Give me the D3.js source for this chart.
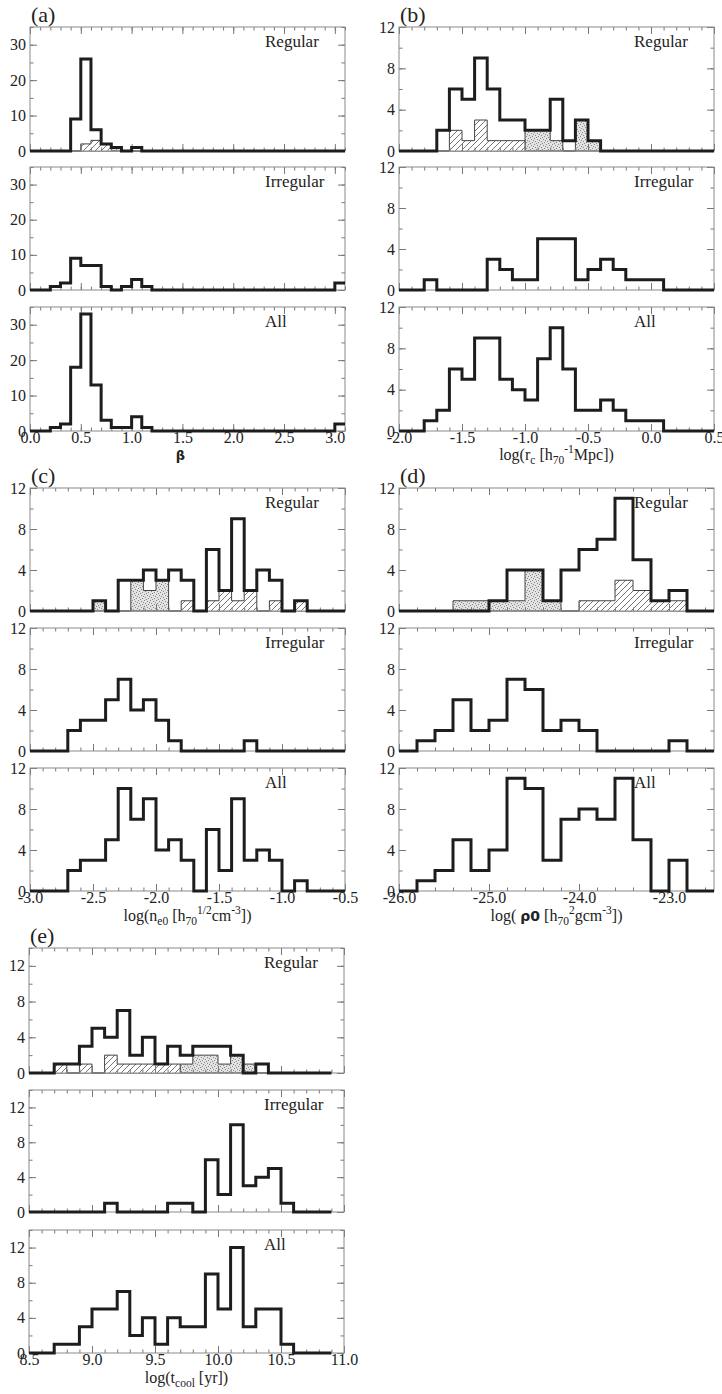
<!DOCTYPE html>
<html><head><meta charset="utf-8">
<script src="https://cdn.jsdelivr.net/npm/d3@7"></script>
<style>
body{margin:0;background:#fff;}
svg text{font-family:"Liberation Serif","Times New Roman",serif;fill:#222;}
</style></head><body>
<svg id="fig" width="722" height="1394"></svg>
<script>
// ---------- counts per bin (bins start at the panel's first edge) ----------
// (a) beta, bins of 0.1 from 0.0
const betaRegular   = [0,0,0,0,9,26,6,2,1,0,1,0,0,0,0,0,0,0,0,0,0,0,0,0,0,0,0,0,0,0,0];
const betaHatch     = [0,0,0,0,0,2,3,2,0,0,0,0,0,0,0,0,0,0,0,0,0,0,0,0,0,0,0,0,0,0,0];
const betaStipple   = [0,0,0,0,0,0,0,0,1,0,0,0,0,0,0,0,0,0,0,0,0,0,0,0,0,0,0,0,0,0,0];
const betaIrregular = [0,0,1,2,9,7,7,1,0,1,3,1,0,0,0,0,0,0,0,0,0,0,0,0,0,0,0,0,0,0,2];
const betaAll       = [0,0,1,2,18,33,13,3,1,1,4,1,0,0,0,0,0,0,0,0,0,0,0,0,0,0,0,0,0,0,2];

// (b) log r_c, bins of 0.1 from -2.0
const rcRegular   = [0,0,0,2,6,5,9,6,3,3,2,2,5,1,3,1,0,0,0,0,0,0,0,0,0];
const rcHatch     = [0,0,0,0,2,1,3,1,1,1,0,0,0,0,0,0,0,0,0,0,0,0,0,0,0];
const rcStipple   = [0,0,0,0,0,0,0,0,0,0,2,2,1,0,3,1,0,0,0,0,0,0,0,0,0];
const rcIrregular = [0,0,1,0,0,0,0,3,2,1,1,5,5,5,1,2,3,2,1,1,1,0,0,0,0];
const rcAll       = [0,0,1,2,6,5,9,9,5,4,3,7,10,6,2,2,3,2,1,1,1,0,0,0,0];

// (c) log n_e0, bins of 0.1 from -3.0
const neRegular   = [0,0,0,0,0,1,0,3,3,4,3,4,3,0,6,2,9,2,4,3,0,1,0,0,0];
const neHatch     = [0,0,0,0,0,0,0,0,0,0,0,0,1,0,1,2,1,2,0,1,0,1,0,0,0];
const neStipple   = [0,0,0,0,0,1,0,0,3,2,3,0,0,0,0,0,0,0,0,0,0,0,0,0,0];
const neIrregular = [0,0,0,2,3,3,5,7,4,5,3,1,0,0,0,0,0,1,0,0,0,0,0,0,0];
const neAll       = [0,0,0,2,3,3,5,10,7,9,4,5,3,0,6,2,9,3,4,3,0,1,0,0,0];

// (d) log rho_0, bins of 0.2 from -26.0
const rhoRegular   = [0,0,0,0,0,1,4,4,1,4,6,7,11,5,1,2,0,0];
const rhoHatch     = [0,0,0,0,0,0,0,0,0,0,1,1,3,2,1,1,0,0];
const rhoStipple   = [0,0,0,1,1,1,1,4,1,0,0,0,0,0,0,0,0,0];
const rhoIrregular = [0,1,2,5,2,3,7,6,2,3,2,0,0,0,0,1,0,0];
const rhoAll       = [0,1,2,5,2,4,11,10,3,7,8,7,11,5,0,3,0,0];

// (e) log t_cool, bins of 0.1 from 8.5
const tcRegular   = [0,0,1,1,3,5,4,7,2,4,1,3,2,3,3,3,2,0,1,0,0,0,0,0];
const tcHatch     = [0,0,1,0,1,0,2,1,1,1,1,1,0,0,0,0,0,0,0,0,0,0,0,0];
const tcStipple   = [0,0,0,0,0,0,0,0,0,0,0,0,1,2,2,1,2,1,0,0,0,0,0,0];
const tcIrregular = [0,0,0,0,0,0,1,0,0,0,0,1,1,0,6,2,10,3,4,5,1,0,0,0];
const tcAll       = [0,0,1,1,3,5,5,7,2,4,1,4,3,3,9,5,12,3,5,5,1,0,0,0];

// ---------- tick labels ----------
const betaTicks = [0.0,0.5,1.0,1.5,2.0,2.5,3.0];
const rcTicks   = [-2.0,-1.5,-1.0,-0.5,0.0,0.5];
const neTicks   = [-3.0,-2.5,-2.0,-1.5,-1.0,-0.5];
const rhoTicks  = [-26.0,-25.0,-24.0,-23.0];
const tcTicks   = [8.5,9.0,9.5,10.0,10.5,11.0];
const countTicks35 = [0,10,20,30];
const countTicks12 = [0,4,8,12];
const rowNames = ["Regular","Irregular","All"];

const svg = d3.select("#fig");
const defs = svg.append("defs");

// diagonal hatching
const hatch = defs.append("pattern").attr("id","hatch")
  .attr("patternUnits","userSpaceOnUse").attr("width",6).attr("height",6);
hatch.append("rect").attr("width",6).attr("height",6).attr("fill","#fff");
hatch.append("path").attr("d","M-1,1 L1,-1 M0,6 L6,0 M5,7 L7,5")
  .attr("stroke","#666").attr("stroke-width",0.9);

// speckled grey fill
const stip = defs.append("pattern").attr("id","stipple")
  .attr("patternUnits","userSpaceOnUse").attr("width",6).attr("height",6);
stip.append("rect").attr("width",6).attr("height",6).attr("fill","#e2e2e2");
[[0,0],[3,1],[1,3],[4,4],[2,5],[5,2]].forEach(([px,py]) =>
  stip.append("rect").attr("x",px).attr("y",py).attr("width",1).attr("height",1).attr("fill","#8a8a8a"));

function label(g, x, y, parts, size, anchor){
  const t = g.append("text").attr("x",x).attr("y",y)
    .attr("text-anchor",anchor||"middle").attr("font-size",size);
  const shift = {n:0, sub:4, sup:-7};
  let cur = 0;
  parts.forEach(p => {
    const kind = p[1] || "n";
    const ts = t.append("tspan").text(p[0]).attr("dy", shift[kind]-cur);
    cur = shift[kind];
    if (kind !== "n") ts.attr("font-size", size*0.72);
    if (p[2]) ts.attr("font-family", p[2]).attr("font-weight","bold").attr("font-size", p[3]||size);
  });
  return t;
}

const fmt = d => d.toFixed(1);

function drawPanel(p){
  const x = d3.scaleLinear().domain(p.xDomain).range([p.x0, p.x1]);
  const edge = i => +(p.binStart + i*p.binWidth).toFixed(4);
  const pts = arr => {
    const out = arr.map((v,i)=>[edge(i), v]).filter(d => d[0] < p.lineEnd - 1e-9);
    out.push([p.lineEnd, out[out.length-1][1]]);
    return out;
  };
  const xMinor = d3.range(p.xDomain[0], p.xDomain[1]+1e-9, p.xMinorStep).map(v=>+v.toFixed(4));

  p.rows.forEach((row, r) => {
    const top = p.tops[r], bot = p.bottoms[r];
    const y = d3.scaleLinear().domain(p.yDomain).range([bot, top]);
    const yMinor = d3.range(p.yDomain[0], p.yDomain[1]+1e-9, p.yMinorStep);
    const g = svg.append("g");
    const line = d3.line().x(d=>x(d[0])).y(d=>y(d[1])).curve(d3.curveStepAfter);
    const area = d3.area().x(d=>x(d[0])).y0(y(0)).y1(d=>y(d[1])).curve(d3.curveStepAfter);

    // sub-sample fills
    [["stipple",row.stipple],["hatch",row.hatch]].forEach(([pat, arr]) => {
      if (!arr) return;
      const pp = pts(arr);
      g.append("path").attr("d", area(pp)).attr("fill", `url(#${pat})`);
      g.append("path").attr("d", line(pp)).attr("fill","none")
        .attr("stroke","#444").attr("stroke-width",1);
    });

    // ticks, all pointing inward
    const tickStyle = sel => {
      sel.select(".domain").remove();
      sel.selectAll("line").attr("stroke","#777").attr("stroke-width",1);
      sel.selectAll("text").attr("font-family","Liberation Serif, serif").attr("font-size",16).attr("fill","#222");
    };
    g.append("g").attr("transform",`translate(${p.x0},0)`)
      .call(d3.axisLeft(y).tickValues(yMinor).tickSize(-3.5).tickFormat("")).call(tickStyle);
    g.append("g").attr("transform",`translate(${p.x1},0)`)
      .call(d3.axisRight(y).tickValues(yMinor).tickSize(-3.5).tickFormat("")).call(tickStyle);
    g.append("g").attr("transform",`translate(${p.x0},0)`)
      .call(d3.axisLeft(y).tickValues(p.yTicks).tickSize(-7).tickPadding(4).tickFormat(d3.format("d"))).call(tickStyle);
    g.append("g").attr("transform",`translate(${p.x1},0)`)
      .call(d3.axisRight(y).tickValues(p.yTicks).tickSize(-7).tickFormat("")).call(tickStyle);
    g.append("g").attr("transform",`translate(0,${top})`)
      .call(d3.axisTop(x).tickValues(xMinor).tickSize(-3.5).tickFormat("")).call(tickStyle);
    g.append("g").attr("transform",`translate(0,${top})`)
      .call(d3.axisTop(x).tickValues(p.xTicks).tickSize(-7).tickFormat("")).call(tickStyle);
    g.append("g").attr("transform",`translate(0,${bot})`)
      .call(d3.axisBottom(x).tickValues(xMinor).tickSize(-3.5).tickFormat("")).call(tickStyle);
    g.append("g").attr("transform",`translate(0,${bot})`)
      .call(d3.axisBottom(x).tickValues(p.xTicks).tickSize(-7).tickPadding(1)
        .tickFormat(r === 2 ? fmt : "")).call(tickStyle);

    // frame
    g.append("rect").attr("x",p.x0).attr("y",top).attr("width",p.x1-p.x0).attr("height",bot-top)
      .attr("fill","none").attr("stroke","#8a8a8a").attr("stroke-width",1);

    // total histogram outline
    g.append("path").attr("d", line(pts(row.total))).attr("fill","none")
      .attr("stroke","#1d1d1d").attr("stroke-width",3).attr("stroke-linejoin","miter");

    g.append("text").attr("x", p.x0 + 235).attr("y", top + 20)
      .attr("font-size",17).text(rowNames[r]);
  });

  svg.append("text").attr("x", p.x0 + 1).attr("y", p.tops[0] - 5)
    .attr("font-size",22).text(`(${p.letter})`);
  p.xLabel(svg, (p.x0+p.x1)/2, p.bottoms[2] + 30);
}

const topRows = [27,167,307], topBots = [151,290,431];
const midRows = [488,628,768], midBots = [611,751,891];
const lowRows = [948,1090,1230], lowBots = [1073,1212,1353];

drawPanel({letter:"a", x0:30, x1:345, tops:topRows, bottoms:topBots,
  xDomain:[0,3.1], yDomain:[0,35], yTicks:countTicks35, yMinorStep:5,
  xTicks:betaTicks, xMinorStep:0.1, binStart:0, binWidth:0.1, lineEnd:3.1,
  rows:[{total:betaRegular, hatch:betaHatch, stipple:betaStipple},{total:betaIrregular},{total:betaAll}],
  xLabel:(g,cx,cy)=>label(g, cx-7, cy-1, [["β","n","DejaVu Sans",13]], 15)});

drawPanel({letter:"b", x0:399, x1:714, tops:topRows, bottoms:topBots,
  xDomain:[-2,0.5], yDomain:[0,12], yTicks:countTicks12, yMinorStep:2,
  xTicks:rcTicks, xMinorStep:0.1, binStart:-2, binWidth:0.1, lineEnd:0.5,
  rows:[{total:rcRegular, hatch:rcHatch, stipple:rcStipple},{total:rcIrregular},{total:rcAll}],
  xLabel:(g,cx,cy)=>label(g, cx, cy-1, [["log(r"],["c","sub"],[" [h"],["70","sub"],["-1","sup"],["Mpc])"]], 16)});

drawPanel({letter:"c", x0:30, x1:345, tops:midRows, bottoms:midBots,
  xDomain:[-3,-0.5], yDomain:[0,12], yTicks:countTicks12, yMinorStep:2,
  xTicks:neTicks, xMinorStep:0.1, binStart:-3, binWidth:0.1, lineEnd:-0.5,
  rows:[{total:neRegular, hatch:neHatch, stipple:neStipple},{total:neIrregular},{total:neAll}],
  xLabel:(g,cx,cy)=>label(g, cx, cy, [["log(n"],["e0","sub"],[" [h"],["70","sub"],["1/2","sup"],["cm"],["-3","sup"],["])"]], 16)});

drawPanel({letter:"d", x0:399, x1:714, tops:midRows, bottoms:midBots,
  xDomain:[-26,-22.5], yDomain:[0,12], yTicks:countTicks12, yMinorStep:2,
  xTicks:rhoTicks, xMinorStep:0.2, binStart:-26, binWidth:0.2, lineEnd:-22.5,
  rows:[{total:rhoRegular, hatch:rhoHatch, stipple:rhoStipple},{total:rhoIrregular},{total:rhoAll}],
  xLabel:(g,cx,cy)=>label(g, cx, cy, [["log( "],["ρ0","n","DejaVu Sans",14],[" [h"],["70","sub"],["2","sup"],["gcm"],["-3","sup"],["])"]], 16)});

drawPanel({letter:"e", x0:29, x1:344, tops:lowRows, bottoms:lowBots,
  xDomain:[8.5,11], yDomain:[0,14], yTicks:countTicks12, yMinorStep:2,
  xTicks:tcTicks, xMinorStep:0.1, binStart:8.5, binWidth:0.1, lineEnd:10.9,
  rows:[{total:tcRegular, hatch:tcHatch, stipple:tcStipple},{total:tcIrregular},{total:tcAll}],
  xLabel:(g,cx,cy)=>label(g, cx, cy, [["log(t"],["cool","sub"],[" [yr])"]], 16)});
</script>
</body></html>
